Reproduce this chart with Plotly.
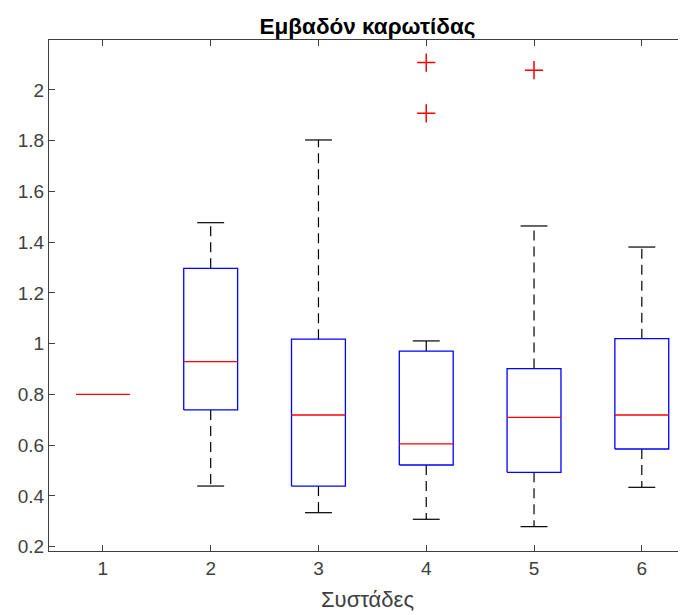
import plotly.graph_objects as go

# ---- data ----
groups = [1, 2, 3, 4, 5, 6]
tick_labels = ["1", "2", "3", "4", "5", "6"]
lower_whisker = [0.80, 0.439, 0.334, 0.308, 0.279, 0.434]
q1 = [0.80, 0.739, 0.439, 0.522, 0.493, 0.585]
median = [0.80, 0.929, 0.719, 0.605, 0.710, 0.719]
q3 = [0.80, 1.297, 1.018, 0.971, 0.902, 1.020]
upper_whisker = [0.80, 1.477, 1.803, 1.011, 1.464, 1.381]
outlier_group = [4, 4, 5]
outlier_value = [2.108, 1.908, 2.078]

title_text = "Εμβαδόν καρωτίδας"
xlabel_text = "Συστάδες"
y_ticks = [0.2, 0.4, 0.6, 0.8, 1.0, 1.2, 1.4, 1.6, 1.8, 2.0]
y_tick_text = ["0.2", "0.4", "0.6", "0.8", "1", "1.2", "1.4", "1.6", "1.8", "2"]

BOX_W = 0.5
CAP_W = 0.25
FONT = "Liberation Sans, Arial, Helvetica, sans-serif"
AX = "#404040"
TXT = "#404040"

fig = go.Figure()

for i, g in enumerate(groups):
    if not (q3[i] == q1[i] and upper_whisker[i] == lower_whisker[i]):
        # whiskers (dashed)
        fig.add_trace(go.Scatter(
            x=[g, g, None, g, g],
            y=[q3[i], upper_whisker[i], None, q1[i], lower_whisker[i]],
            mode="lines", line=dict(color="#000000", width=1.2, dash="10px,6px"),
            hoverinfo="skip", showlegend=False))
        # caps
        fig.add_trace(go.Scatter(
            x=[g - CAP_W / 2, g + CAP_W / 2, None, g - CAP_W / 2, g + CAP_W / 2],
            y=[upper_whisker[i], upper_whisker[i], None, lower_whisker[i], lower_whisker[i]],
            mode="lines", line=dict(color="#000000", width=1.2),
            hoverinfo="skip", showlegend=False))
        # box
        fig.add_trace(go.Scatter(
            x=[g - BOX_W / 2, g + BOX_W / 2, g + BOX_W / 2, g - BOX_W / 2, g - BOX_W / 2],
            y=[q1[i], q1[i], q3[i], q3[i], q1[i]],
            mode="lines", line=dict(color="#0000ff", width=1.3),
            hoverinfo="skip", showlegend=False))
    # median
    fig.add_trace(go.Scatter(
        x=[g - BOX_W / 2, g + BOX_W / 2], y=[median[i], median[i]],
        mode="lines", line=dict(color="#ff0000", width=1.3),
        hoverinfo="skip", showlegend=False))

fig.add_trace(go.Scatter(
    x=outlier_group, y=outlier_value, mode="markers",
    marker=dict(symbol="cross-thin-open", size=13, color="#ff0000",
                line=dict(color="#ff0000", width=1.5)),
    hoverinfo="skip", showlegend=False))

# the page body adds an 8px offset; margins compensate for it
fig.update_layout(
    width=686, height=615,
    margin=dict(l=41, r=8, t=32, b=72, autoexpand=False),
    paper_bgcolor="white", plot_bgcolor="white",
    font=dict(family=FONT, size=19, color=TXT),
    title=dict(text="<b>" + title_text + "</b>", x=0.5, xref="paper",
               y=1 - 18 / 615, yanchor="middle", xanchor="center",
               font=dict(size=22.5, color="#000000")),
    xaxis=dict(range=[0.5, 6.41], tickmode="array", tickvals=groups, ticktext=tick_labels,
               ticks="inside", ticklen=6, tickcolor=AX, showline=True, linecolor=AX,
               linewidth=1, mirror="ticks", showgrid=False, zeroline=False, automargin=False,
               title=dict(text=xlabel_text, font=dict(size=22, color=TXT), standoff=13),
               tickfont=dict(size=19, color=TXT)),
    yaxis=dict(range=[0.183, 2.197], tickmode="array", tickvals=y_ticks, ticktext=y_tick_text,
               ticks="inside", ticklen=6, tickcolor=AX, showline=True, linecolor=AX,
               linewidth=1, showgrid=False, zeroline=False, automargin=False,
               tickfont=dict(size=19, color=TXT)),
)

fig.write_html("out.html")
